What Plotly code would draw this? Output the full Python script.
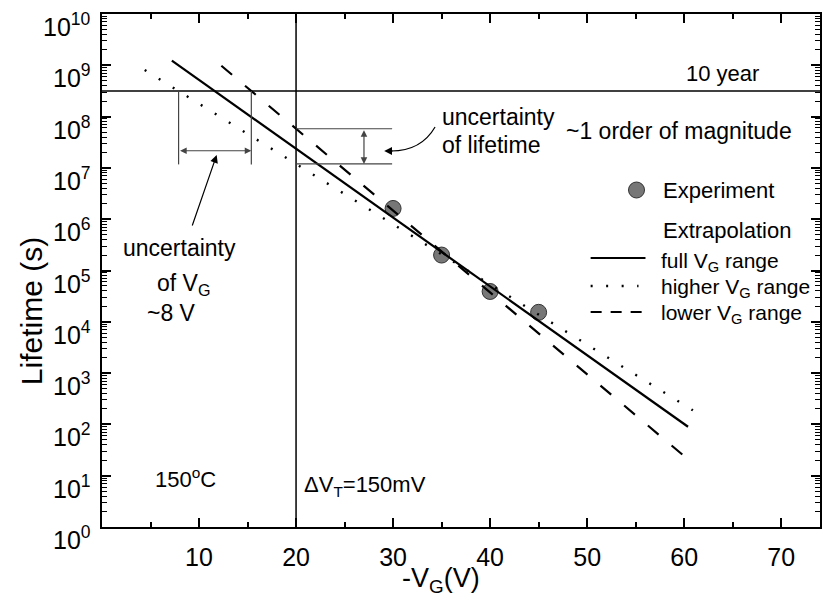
import numpy as np
import plotly.graph_objects as go

# ---------------- data ----------------
exp_vg = [30, 35, 40, 45]                       # -V_G (V)
exp_life = [1.62e6, 2.0e5, 3.9e4, 1.53e4]       # lifetime (s)

# extrapolation lines (straight in log(lifetime) vs V_G), end points
full_vg = [7.2, 60.4]
full_life = [1.23e9, 90.0]
high_vg = [4.4, 60.9]
high_life = [8.1e8, 188.0]
low_vg = [12.3, 59.9]
low_life = [9.8e8, 25.0]

ten_years = 3.15e8          # s
vg_limit = 20               # V
y_tick_exps = list(range(0, 11))
x_tick_vals = [10, 20, 30, 40, 50, 60, 70]
x_minor_vals = [5, 15, 25, 35, 45, 55, 65]

X_MAX = 74.0

# plot-area geometry in pixels
W, H = 823, 599
ML, MR, MT, MB = 102, 1, 14, 72
PW, PH = W - ML - MR, H - MT - MB


def xp(x):
    """data x -> fraction of plot width"""
    return x / X_MAX


def yp(v):
    """data lifetime -> fraction of plot height"""
    return np.log10(v) / 10.0


def pxp(X):
    """pixel x -> fraction of plot width"""
    return (X - ML) / PW


def pyp(Y):
    """pixel y -> fraction of plot height"""
    return (H - MB - Y) / PH


def log_interp(xs, ys, x):
    ly = np.interp(x, xs, np.log10(ys))
    return 10 ** ly


def cross_x(xs, ys, level):
    lx = np.log10(ys)
    return float(np.interp(np.log10(level), lx[::-1], np.array(xs)[::-1]))


fig = go.Figure()

fig.add_trace(go.Scatter(
    x=exp_vg, y=exp_life, mode="markers",
    marker=dict(size=16, color="#777777", line=dict(color="#333333", width=1)),
    showlegend=False))

fig.add_trace(go.Scatter(x=full_vg, y=full_life, mode="lines",
                         line=dict(color="black", width=2.2), showlegend=False))
fig.add_trace(go.Scatter(x=high_vg, y=high_life, mode="lines",
                         line=dict(color="black", width=2.4, dash="2px,14.5px"),
                         showlegend=False))
fig.add_trace(go.Scatter(x=low_vg, y=low_life, mode="lines",
                         line=dict(color="black", width=2.2, dash="14px,17px"),
                         showlegend=False))

shapes = []
ann = []
DX, DY = "x domain", "y domain"


def arrow(x, y, ax, ay, both=False, color="black", size=1.3):
    d = dict(xref=DX, yref=DY, axref=DX, ayref=DY,
             x=float(x), y=float(y), ax=float(ax), ay=float(ay),
             text="", showarrow=True, arrowhead=2, arrowsize=size,
             arrowwidth=1.2, arrowcolor=color, standoff=0)
    if both:
        d.update(arrowside="end+start", startstandoff=0)
    ann.append(d)


def seg(x0, y0, x1, y1, color="#444444", width=1.2, dash=None):
    line = dict(color=color, width=width)
    if dash:
        line["dash"] = dash
    shapes.append(dict(type="line", xref="paper", yref="paper",
                       x0=float(x0), x1=float(x1), y0=float(y0), y1=float(y1),
                       line=line))


# reference lines: 10 years and V_G limit
seg(0, yp(ten_years), 1, yp(ten_years), color="black", width=1.5)
seg(xp(vg_limit), 0, xp(vg_limit), 1, color="black", width=1.5)

# uncertainty of V_G bracket
xa = cross_x(high_vg, high_life, ten_years)
xb = cross_x(low_vg, low_life, ten_years)
br_bottom = 1.17e7
br_arrow = 2.16e7
for xv in (xa, xb):
    seg(xp(xv), yp(ten_years), xp(xv), yp(br_bottom))
arrow(xp(xb), yp(br_arrow), xp(xa), yp(br_arrow), both=True, color="#444444", size=1.1)

# uncertainty of lifetime bracket
top_life = log_interp(low_vg, low_life, vg_limit)
bot_life = log_interp(high_vg, high_life, vg_limit)
for lv in (top_life, bot_life):
    seg(xp(vg_limit), yp(lv), xp(29.9), yp(lv))
arrow(xp(27.0), yp(bot_life), xp(27.0), yp(top_life), both=True, color="#444444", size=1.1)

# curved pointer towards the lifetime bracket
p0 = (pxp(436), pyp(127))
pc = (pxp(422), pyp(151))
p1 = (pxp(392), pyp(151))
shapes.append(dict(type="path", xref="paper", yref="paper",
                   path=f"M {p0[0]},{p0[1]} Q {pc[0]},{pc[1]} {p1[0]},{p1[1]}",
                   line=dict(color="black", width=1.2)))
arrow(pxp(385), pyp(151), pxp(395), pyp(151))

# pointer towards the V_G bracket
arrow(pxp(217), pyp(155), pxp(192), pyp(227))

FONT = "Liberation Sans, Arial, sans-serif"


def text(X, Y, s, anchor="left", size=22, **kw):
    ann.append(dict(xref="paper", yref="paper", x=pxp(X), y=pyp(Y), text=s,
                    showarrow=False, xanchor=anchor, yanchor="middle",
                    font=dict(family=FONT, size=size, color="black"), **kw))


text(763, 73, "10 year", anchor="right")
text(441, 117, "uncertainty", size=23)
text(441, 145, "of lifetime", size=23)
text(565, 131, "~1 order of magnitude", size=23)
text(180, 248, "uncertainty", anchor="center", size=23)
text(184, 284, "of V<sub>G</sub>", anchor="center", size=23)
text(172, 313, "~8 V", anchor="center", size=23)
text(153, 478, "150<sup>o</sup>C")
text(303, 486, "ΔV<sub>T</sub>=150mV")

# legend
shapes.append(dict(type="circle", xref="paper", yref="paper",
                   xsizemode="pixel", ysizemode="pixel",
                   xanchor=pxp(638), yanchor=pyp(190),
                   x0=-8, x1=8, y0=-8, y1=8,
                   fillcolor="#777777", line=dict(color="#333333", width=1)))
LS = 21
text(663, 190, "Experiment", size=LS + 1)
text(663, 230, "Extrapolation", size=LS + 1)
text(661, 262, "full V<sub>G</sub> range", size=LS)
text(661, 288, "higher V<sub>G</sub> range", size=LS)
text(661, 314, "lower V<sub>G</sub> range", size=LS)
seg(pxp(592), pyp(258), pxp(647), pyp(258), color="black", width=2.2)
seg(pxp(592), pyp(286), pxp(640), pyp(286), color="black", width=2.4, dash="2px,13.5px")
seg(pxp(592), pyp(312), pxp(648), pyp(312), color="black", width=2.2, dash="11px,9px")

# y tick labels
for k in y_tick_exps:
    ann.append(dict(xref="paper", yref="paper", x=pxp(93), y=k / 10.0,
                    text=f"10<sup>{k}</sup>", showarrow=False,
                    xanchor="right", yanchor="middle", yshift=-11,
                    font=dict(family=FONT, size=25, color="black")))

# axis titles
ann.append(dict(xref="paper", yref="paper", x=pxp(442), y=pyp(599),
                text="-V<sub>G</sub>(V)", showarrow=False,
                xanchor="center", yanchor="bottom",
                font=dict(family=FONT, size=27, color="black")))
ann.append(dict(xref="paper", yref="paper", x=pxp(31), y=pyp(311),
                text="Lifetime (s)", showarrow=False, textangle=-90,
                xanchor="center", yanchor="middle",
                font=dict(family=FONT, size=30, color="black")))

minor_y = [m * 10 ** k for k in range(0, 10) for m in range(2, 10)]

fig.update_layout(
    width=W, height=H,
    margin=dict(l=ML, r=MR, t=MT, b=MB, pad=0),
    paper_bgcolor="white", plot_bgcolor="white",
    showlegend=False,
    shapes=shapes, annotations=ann,
    font=dict(family=FONT, color="black"),
    xaxis=dict(range=[0, X_MAX], tickvals=x_tick_vals,
               ticks="inside", ticklen=9, tickwidth=1.5, tickcolor="black",
               minor=dict(tickvals=x_minor_vals, ticks="inside", ticklen=5,
                          tickwidth=1.5, tickcolor="black"),
               showline=True, linewidth=1.5, linecolor="black", mirror="ticks",
               showgrid=False, zeroline=False,
               tickfont=dict(family=FONT, size=25, color="black"),
               ticklabelstandoff=7),
    yaxis=dict(type="log", range=[0, 10],
               tickvals=[10 ** k for k in y_tick_exps], showticklabels=False,
               ticks="inside", ticklen=9, tickwidth=1.5, tickcolor="black",
               minor=dict(tickvals=minor_y, ticks="inside", ticklen=5,
                          tickwidth=1, tickcolor="black"),
               showline=True, linewidth=1.5, linecolor="black", mirror="ticks",
               showgrid=False, zeroline=False),
)

fig.write_html("out.html")
